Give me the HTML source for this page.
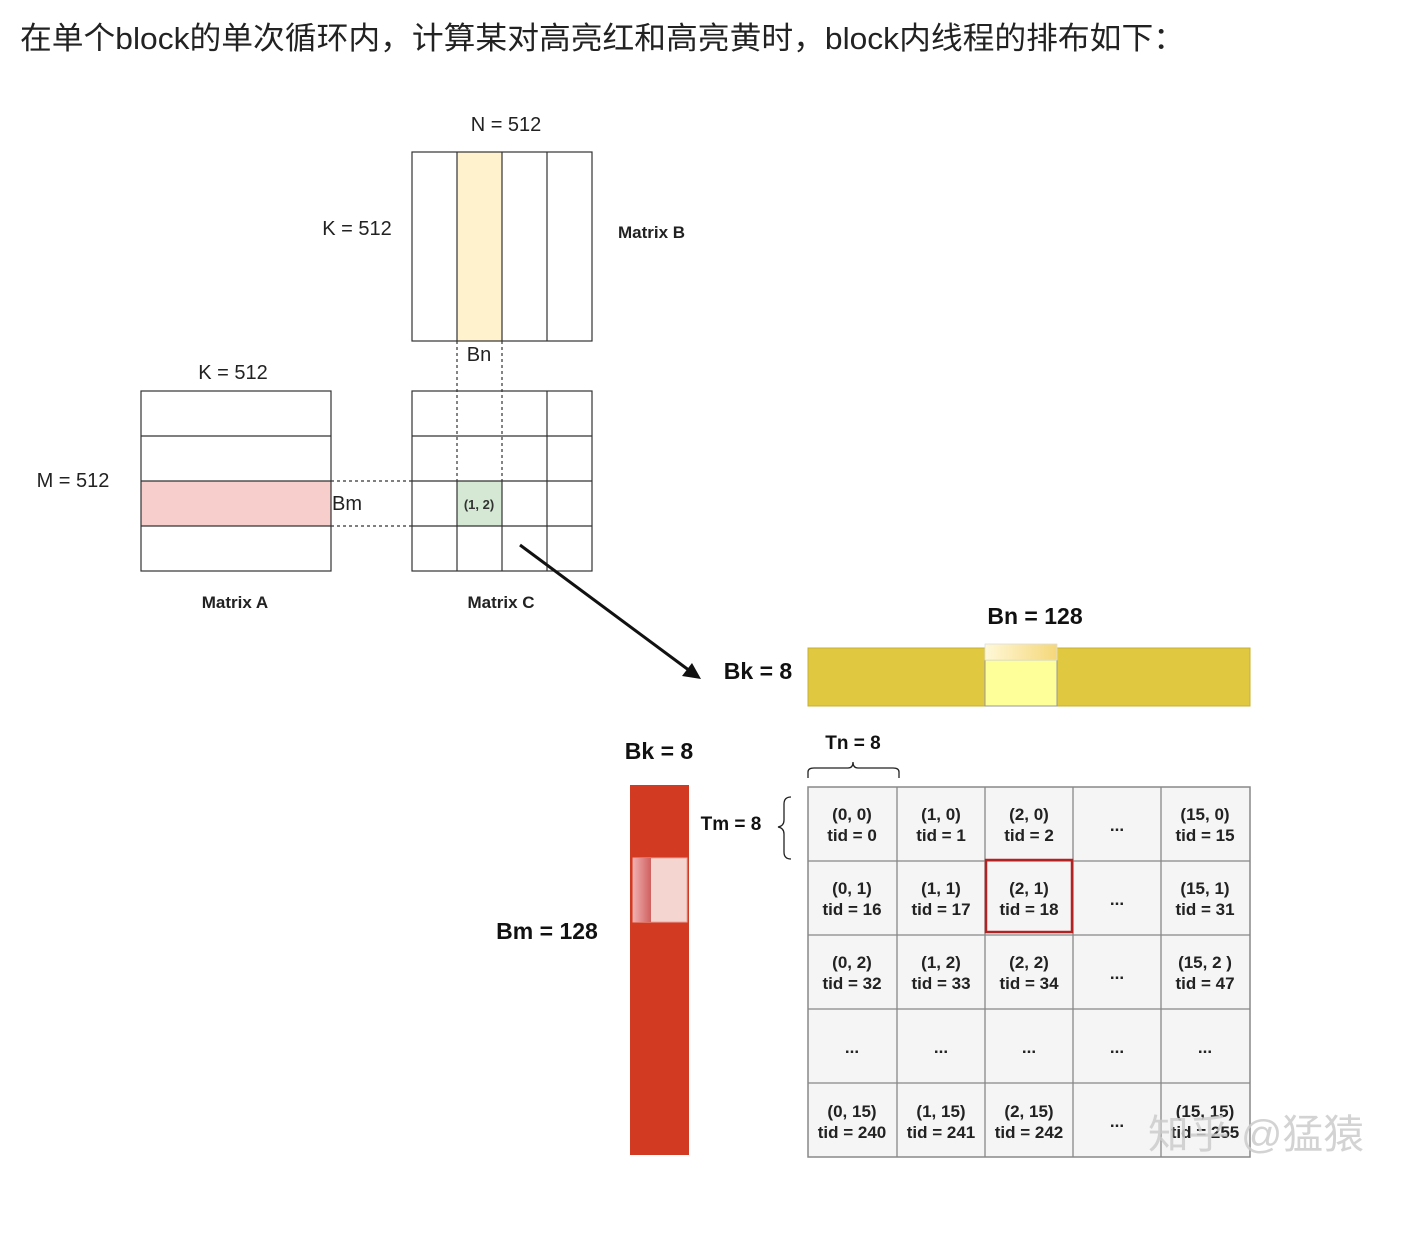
<!DOCTYPE html>
<html><head><meta charset="utf-8"><style>
html,body{margin:0;padding:0;background:#fff;width:1424px;height:1260px;overflow:hidden}
svg{position:absolute;left:0;top:0}
text{font-family:"Liberation Sans",Arial,sans-serif}
</style></head><body>
<svg width="1424" height="1260" viewBox="0 0 1424 1260">
<defs>
<linearGradient id="yg" x1="0" x2="1"><stop offset="0" stop-color="#fff8d8"/><stop offset="1" stop-color="#f5d77a"/></linearGradient>
<linearGradient id="rg" x1="0" x2="1"><stop offset="0" stop-color="#f0b0b0"/><stop offset="1" stop-color="#d06060"/></linearGradient>
</defs>
<text x="20" y="49" font-size="31" fill="#222" textLength="1165" lengthAdjust="spacingAndGlyphs" style="font-family:'Liberation Sans','Noto Sans CJK SC',sans-serif">在单个block的单次循环内，计算某对高亮红和高亮黄时，block内线程的排布如下：</text>

<!-- Matrix B -->
<text x="506" y="131" font-size="20" text-anchor="middle" fill="#222">N = 512</text>
<text x="357" y="235" font-size="20" text-anchor="middle" fill="#222">K = 512</text>
<rect x="457" y="152" width="45" height="189" fill="#fff2cc"/>
<g stroke="#333" stroke-width="1.2" fill="none">
<rect x="412" y="152" width="180" height="189"/>
<line x1="457" y1="152" x2="457" y2="341"/><line x1="502" y1="152" x2="502" y2="341"/><line x1="547" y1="152" x2="547" y2="341"/>
</g>
<text x="618" y="238" font-size="17" font-weight="bold" fill="#222">Matrix B</text>
<text x="479" y="361" font-size="20" text-anchor="middle" fill="#222">Bn</text>

<!-- Matrix A -->
<text x="233" y="379" font-size="20" text-anchor="middle" fill="#222">K = 512</text>
<text x="73" y="487" font-size="20" text-anchor="middle" fill="#222">M = 512</text>
<rect x="141" y="481" width="190" height="45" fill="#f8cecc"/>
<g stroke="#333" stroke-width="1.2" fill="none">
<rect x="141" y="391" width="190" height="180"/>
<line x1="141" y1="436" x2="331" y2="436"/><line x1="141" y1="481" x2="331" y2="481"/><line x1="141" y1="526" x2="331" y2="526"/>
</g>
<text x="332" y="510" font-size="20" fill="#222">Bm</text>
<text x="235" y="608" font-size="17" font-weight="bold" text-anchor="middle" fill="#222">Matrix A</text>

<!-- Matrix C -->
<rect x="457" y="481" width="45" height="45" fill="#d5e8d4"/>
<g stroke="#333" stroke-width="1.2" fill="none">
<rect x="412" y="391" width="180" height="180"/>
<line x1="412" y1="436" x2="592" y2="436"/><line x1="412" y1="481" x2="592" y2="481"/><line x1="412" y1="526" x2="592" y2="526"/>
<line x1="547" y1="391" x2="547" y2="571"/>
<line x1="457" y1="481" x2="457" y2="571"/><line x1="502" y1="481" x2="502" y2="571"/>
</g>
<g stroke="#333" stroke-width="1.2" stroke-dasharray="3,3" fill="none">
<line x1="457" y1="341" x2="457" y2="481"/><line x1="502" y1="341" x2="502" y2="481"/>
<line x1="331" y1="481" x2="412" y2="481"/><line x1="331" y1="526" x2="412" y2="526"/>
</g>
<text x="479" y="509" font-size="13" font-weight="bold" text-anchor="middle" fill="#333">(1, 2)</text>
<text x="501" y="608" font-size="17" font-weight="bold" text-anchor="middle" fill="#222">Matrix C</text>

<!-- arrow -->
<line x1="520" y1="545" x2="690" y2="671" stroke="#111" stroke-width="3"/>
<polygon points="701,679 682,676 692,663" fill="#111"/>

<!-- yellow bar -->
<text x="1035" y="624" font-size="23" font-weight="bold" text-anchor="middle" fill="#111">Bn = 128</text>
<text x="758" y="679" font-size="23" font-weight="bold" text-anchor="middle" fill="#111">Bk = 8</text>
<rect x="808" y="648" width="442" height="58" fill="#e0c840" stroke="#c8b030"/>
<rect x="985" y="660" width="72" height="46" fill="#ffff99" stroke="#999" stroke-width="1"/>
<rect x="985" y="644" width="72" height="16" fill="url(#yg)" stroke="#ddd" stroke-width="0.8"/>

<!-- red bar -->
<text x="659" y="759" font-size="23" font-weight="bold" text-anchor="middle" fill="#111">Bk = 8</text>
<text x="547" y="939" font-size="23" font-weight="bold" text-anchor="middle" fill="#111">Bm = 128</text>
<rect x="630" y="785" width="59" height="370" fill="#d33a22"/>
<rect x="633" y="858" width="54" height="64" fill="#f5d5d0" stroke="#e8a8a0"/>
<rect x="633" y="858" width="18" height="64" fill="url(#rg)"/>

<!-- braces -->
<text x="853" y="749" font-size="19" font-weight="bold" text-anchor="middle" fill="#111">Tn = 8</text>
<path d="M808,778 V772 Q808,768 814,768 H848 Q853,768 853,762 Q853,768 858,768 H893 Q899,768 899,772 V778" stroke="#222" stroke-width="1.3" fill="none"/>
<text x="731" y="830" font-size="19" font-weight="bold" text-anchor="middle" fill="#111">Tm = 8</text>
<path d="M791,797 Q784,797 784,804 V820 Q784,826 778,827 Q784,828 784,834 V852 Q784,859 791,859" stroke="#222" stroke-width="1.3" fill="none"/>

<!-- grid -->
<rect x="808" y="787" width="442" height="370" fill="#f5f5f5" stroke="#888" stroke-width="1.5"/>
<g stroke="#888" stroke-width="1.3">
<line x1="897" y1="787" x2="897" y2="1157"/><line x1="985" y1="787" x2="985" y2="1157"/><line x1="1073" y1="787" x2="1073" y2="1157"/><line x1="1161" y1="787" x2="1161" y2="1157"/>
<line x1="808" y1="861" x2="1250" y2="861"/><line x1="808" y1="935" x2="1250" y2="935"/><line x1="808" y1="1009" x2="1250" y2="1009"/><line x1="808" y1="1083" x2="1250" y2="1083"/>
</g>
<rect x="986" y="860" width="86" height="72" fill="none" stroke="#b22222" stroke-width="2.5"/>
<g font-size="17" font-weight="bold" fill="#222" text-anchor="middle">
<text x="852" y="820">(0, 0)</text><text x="852" y="841">tid = 0</text>
<text x="941" y="820">(1, 0)</text><text x="941" y="841">tid = 1</text>
<text x="1029" y="820">(2, 0)</text><text x="1029" y="841">tid = 2</text>
<text x="1117" y="831">...</text>
<text x="1205" y="820">(15, 0)</text><text x="1205" y="841">tid = 15</text>
<text x="852" y="894">(0, 1)</text><text x="852" y="915">tid = 16</text>
<text x="941" y="894">(1, 1)</text><text x="941" y="915">tid = 17</text>
<text x="1029" y="894">(2, 1)</text><text x="1029" y="915">tid = 18</text>
<text x="1117" y="905">...</text>
<text x="1205" y="894">(15, 1)</text><text x="1205" y="915">tid = 31</text>
<text x="852" y="968">(0, 2)</text><text x="852" y="989">tid = 32</text>
<text x="941" y="968">(1, 2)</text><text x="941" y="989">tid = 33</text>
<text x="1029" y="968">(2, 2)</text><text x="1029" y="989">tid = 34</text>
<text x="1117" y="979">...</text>
<text x="1205" y="968">(15, 2 )</text><text x="1205" y="989">tid = 47</text>
<text x="852" y="1053">...</text><text x="941" y="1053">...</text><text x="1029" y="1053">...</text><text x="1117" y="1053">...</text><text x="1205" y="1053">...</text>
<text x="852" y="1117">(0, 15)</text><text x="852" y="1138">tid = 240</text>
<text x="941" y="1117">(1, 15)</text><text x="941" y="1138">tid = 241</text>
<text x="1029" y="1117">(2, 15)</text><text x="1029" y="1138">tid = 242</text>
<text x="1117" y="1127">...</text>
<text x="1205" y="1117">(15, 15)</text><text x="1205" y="1138">tid = 255</text>
</g>
<text x="1148" y="1148" font-size="40" fill="#ccc" opacity="0.85" textLength="216" lengthAdjust="spacingAndGlyphs" style="font-family:'Liberation Sans','Noto Sans CJK SC',sans-serif">知乎 @猛猿</text>
</svg>
</body></html>
